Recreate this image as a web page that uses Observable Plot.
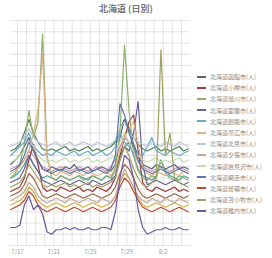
<!DOCTYPE html>
<html><head><meta charset="utf-8">
<script src="https://cdn.jsdelivr.net/npm/d3@7"></script>
<script src="https://cdn.jsdelivr.net/npm/@observablehq/plot@0.6"></script>
<style>
html,body{margin:0;padding:0;background:#fff;width:272px;height:258px;overflow:hidden;font-family:"Noto Sans CJK JP","Noto Sans",sans-serif;}
#title{position:absolute;left:0;width:252px;top:2px;text-align:center;font-size:9px;font-weight:bold;color:#777;}
#chart{position:absolute;left:0;top:18px;}
#legend{position:absolute;left:197px;top:71px;width:75px;}
.li{height:11.2px;display:flex;align-items:center;white-space:nowrap;overflow:hidden;font-size:6px;color:#8a8a8a;}
.sw{width:9px;height:2px;margin-right:4px;flex:none;}
</style></head>
<body>
<div id="title"></div>
<div id="chart"></div>
<div id="legend"></div>
<script>
const titleText = "北海道 (日別)";
const tickDays = [17, 21, 25, 29, 33];
const tickLabels = ["7/17", "7/21", "7/25", "7/29", "8/2"];
const startDay = 16.25, stepDay = 0.5;

const names = ["北海道函館市(人)","北海道小樽市(人)","北海道旭川市(人)","北海道室蘭市(人)","北海道釧路市(人)","北海道帯広市(人)","北海道北見市(人)","北海道夕張市(人)","北海道岩見沢市(人)","北海道網走市(人)","北海道留萌市(人)","北海道苫小牧市(人)","北海道稚内市(人)"];
const colors = ["#5a6478","#9b3b3b","#8cae6a","#6a6090","#6aa8c8","#e0b080","#b8c4d8","#c0a898","#c8dcb0","#5878a8","#c04830","#a0a060","#6a5aa0"];
const extraNames = ["北海道美唄市(人)","北海道芦別市(人)","北海道江別市(人)","北海道赤平市(人)","北海道紋別市(人)"];
const extraColors = ["#4aa0a0","#a06040","#d090b0","#508050","#d0b040"];

const s1  = [36,38,40,44,48,42,38,34,33,35,34,33,35,34,36,33,34,35,33,34,35,34,33,36,48,56,52,45,40,36,35,34,36,35,34,35,36,34,35,34];
const s2  = [24,25,26,30,38,45,36,26,24,25,24,26,25,24,25,26,24,25,24,26,25,24,26,30,40,48,55,58,42,28,25,24,26,25,24,25,26,24,25,24];
const s3  = [30,32,36,45,60,48,55,94,40,30,29,31,30,29,30,31,29,30,31,30,29,31,30,35,50,89,60,40,33,30,29,31,30,38,32,30,29,31,30,29];
const s4  = [28,29,30,34,40,36,33,29,28,27,28,29,28,27,28,29,28,27,29,28,27,28,29,31,38,44,42,50,64,36,27,28,29,28,27,28,29,28,27,28];
const s5  = [40,42,44,46,50,44,42,40,41,40,42,41,40,41,42,40,41,42,40,41,42,40,41,44,50,46,44,42,41,40,44,48,42,41,40,42,41,40,41,42];
const s6  = [32,33,35,38,42,50,60,85,38,32,31,33,32,31,33,32,31,33,32,31,32,33,31,34,42,48,52,55,45,35,32,31,33,32,31,33,32,31,33,32];
const s7  = [44,45,46,48,52,48,46,45,44,45,46,44,45,46,44,45,46,45,44,46,45,44,45,47,52,55,50,48,46,45,44,46,45,44,46,45,44,46,45,44];
const s8  = [20,21,22,24,28,26,22,20,19,20,21,20,19,21,20,19,20,21,20,19,21,20,19,22,28,34,30,26,22,20,19,21,20,19,21,20,19,21,20,19];
const s9  = [37,38,40,42,46,44,40,38,37,38,37,38,39,37,38,37,38,39,37,38,37,38,39,40,46,50,46,42,40,38,37,38,39,37,38,37,38,39,37,38];
const s10 = [33,34,36,40,46,42,38,34,33,32,33,34,33,32,33,34,33,32,33,34,33,32,34,40,63,58,50,44,38,34,33,32,33,34,33,32,33,34,33,32];
const s11 = [16,17,18,20,24,22,18,16,15,16,17,16,15,16,17,16,15,16,17,16,15,16,17,20,26,30,28,24,20,17,16,15,16,17,16,15,16,17,16,15];
const s12 = [26,27,28,31,36,33,30,27,26,27,26,27,28,26,27,26,27,28,26,27,26,27,28,30,38,44,40,34,30,27,26,28,30,87,40,50,30,28,27,26];
const s13 = [8,8,9,18,22,16,18,14,6,5,7,7,8,7,8,7,7,8,7,7,8,8,7,15,30,40,38,30,16,8,5,6,7,7,8,7,7,8,7,7];
const e1  = [30,31,33,36,40,36,33,30,31,30,29,31,30,29,30,31,30,29,31,30,29,31,30,33,40,44,46,40,34,31,30,29,31,38,33,31,30,29,31,30];
const e2  = [22,23,24,27,32,30,26,22,21,22,23,22,21,22,23,22,21,22,23,22,21,22,23,26,32,36,34,30,25,22,21,22,23,22,21,22,23,22,21,22];
const e3  = [34,35,36,38,42,40,37,35,34,33,34,35,34,33,34,35,34,33,34,35,34,33,35,38,44,48,46,42,37,35,34,33,34,35,34,33,34,35,34,33];
const e4  = [42,43,45,50,56,50,46,43,42,43,42,43,44,42,43,42,43,44,42,43,42,43,44,46,52,56,52,48,45,43,42,43,44,42,43,42,43,44,42,43];
const e5  = [18,19,20,22,26,24,20,18,17,18,19,18,17,18,19,18,17,18,19,18,17,18,19,22,28,32,30,26,21,18,17,18,19,18,17,18,19,18,17,18];

const series = [s1,s2,s3,s4,s5,s6,s7,s8,s9,s10,s11,s12,s13];
const extras = [e1,e2,e3,e4,e5];

const allNames = names.concat(extraNames);
const allColors = colors.concat(extraColors);
const allSeries = series.concat(extras);
const rows = [];
allSeries.forEach((vals, k) => vals.forEach((v, i) => rows.push({name: allNames[k], day: startDay + i * stepDay, value: v})));
const order = extraNames.concat(names);
rows.sort((a, b) => order.indexOf(a.name) - order.indexOf(b.name));

document.getElementById("title").textContent = titleText;

const chart = Plot.plot({
  width: 195, height: 240,
  marginTop: 2, marginBottom: 13, marginLeft: 10, marginRight: 5,
  style: {fontFamily: "Noto Sans CJK JP, Noto Sans, sans-serif", fontSize: "6px", color: "#999", background: "#fff"},
  x: {domain: [16.23, 36.0], axis: null, label: null},
  y: {domain: [0, 100], axis: null, label: null},
  color: {domain: allNames, range: allColors},
  marks: [
    Plot.gridX({ticks: d3.range(17, 36), stroke: "#dcdcdc", strokeOpacity: 1, strokeWidth: 0.8}),
    Plot.gridY({ticks: d3.range(0, 101, 5), stroke: "#dcdcdc", strokeOpacity: 1, strokeWidth: 0.8}),
    Plot.axisX({ticks: tickDays, tickFormat: d => tickLabels[tickDays.indexOf(d)], tickSize: 0, tickPadding: 4, fill: "#999", label: null}),
    Plot.line(rows, {x: "day", y: "value", z: "name", stroke: "name", strokeWidth: 1.2})
  ]
});
document.getElementById("chart").append(chart);

const lg = document.getElementById("legend");
names.forEach((n, k) => {
  const it = document.createElement("div"); it.className = "li";
  const sw = document.createElement("span"); sw.className = "sw"; sw.style.background = colors[k];
  const tx = document.createElement("span"); tx.textContent = n;
  it.append(sw, tx); lg.append(it);
});
</script>
</body></html>
